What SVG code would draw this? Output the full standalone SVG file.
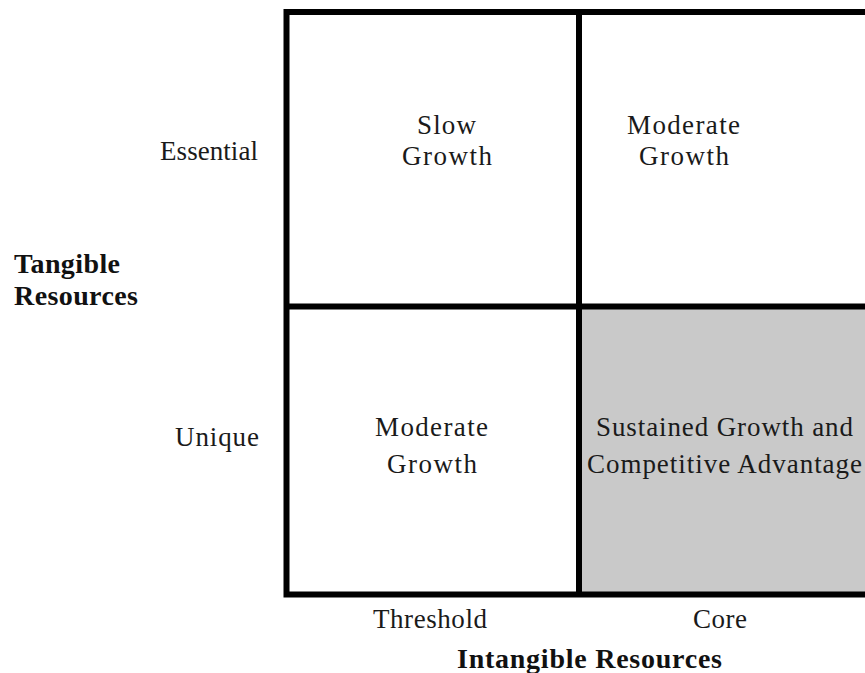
<svg xmlns="http://www.w3.org/2000/svg" width="865" height="673" viewBox="0 0 865 673">
<style>
.t{font-family:"Liberation Serif","Times New Roman",serif;font-size:27px;fill:#1a1a1a;text-anchor:middle}
.b{font-family:"Liberation Serif","Times New Roman",serif;font-size:28px;font-weight:bold;fill:#111}
.ln{stroke:#000;stroke-width:6;fill:none}
</style>
<rect width="865" height="673" fill="#fff"/>
<g id="cell-sustained">
<rect x="579" y="306.5" width="290" height="288" fill="#c9c9c9"/>
<text class="t" x="724.5" y="436" textLength="257" lengthAdjust="spacing">Sustained Growth and</text>
<text class="t" x="724.5" y="473" textLength="275" lengthAdjust="spacing">Competitive Advantage</text>
</g>
<g id="grid">
<path class="ln" d="M868 12 H286.5 V594.5 H868 M579 12 V594.5 M286.5 306.5 H868"/>
</g>
<g id="cell-slow">
<text class="t" x="446.5" y="134" textLength="59" lengthAdjust="spacing">Slow</text>
<text class="t" x="447" y="165" textLength="90" lengthAdjust="spacing">Growth</text>
</g>
<g id="cell-moderate-top">
<text class="t" x="683.5" y="134" textLength="113" lengthAdjust="spacing">Moderate</text>
<text class="t" x="684" y="165" textLength="90" lengthAdjust="spacing">Growth</text>
</g>
<g id="cell-moderate-bottom">
<text class="t" x="431.5" y="436" textLength="113" lengthAdjust="spacing">Moderate</text>
<text class="t" x="432" y="473" textLength="90" lengthAdjust="spacing">Growth</text>
</g>
<g id="axis-y">
<text class="t" x="209" y="160" textLength="98" lengthAdjust="spacing">Essential</text>
<text class="t" x="217" y="446" textLength="84" lengthAdjust="spacing">Unique</text>
<text class="b" x="14" y="273" textLength="106" lengthAdjust="spacing">Tangible</text>
<text class="b" x="14" y="305" textLength="124" lengthAdjust="spacing">Resources</text>
</g>
<g id="axis-x">
<text class="t" x="430" y="628" textLength="114" lengthAdjust="spacing">Threshold</text>
<text class="t" x="720" y="628" textLength="54" lengthAdjust="spacing">Core</text>
<text class="b" x="589.5" y="668" text-anchor="middle" textLength="265" lengthAdjust="spacing">Intangible Resources</text>
</g>
</svg>
